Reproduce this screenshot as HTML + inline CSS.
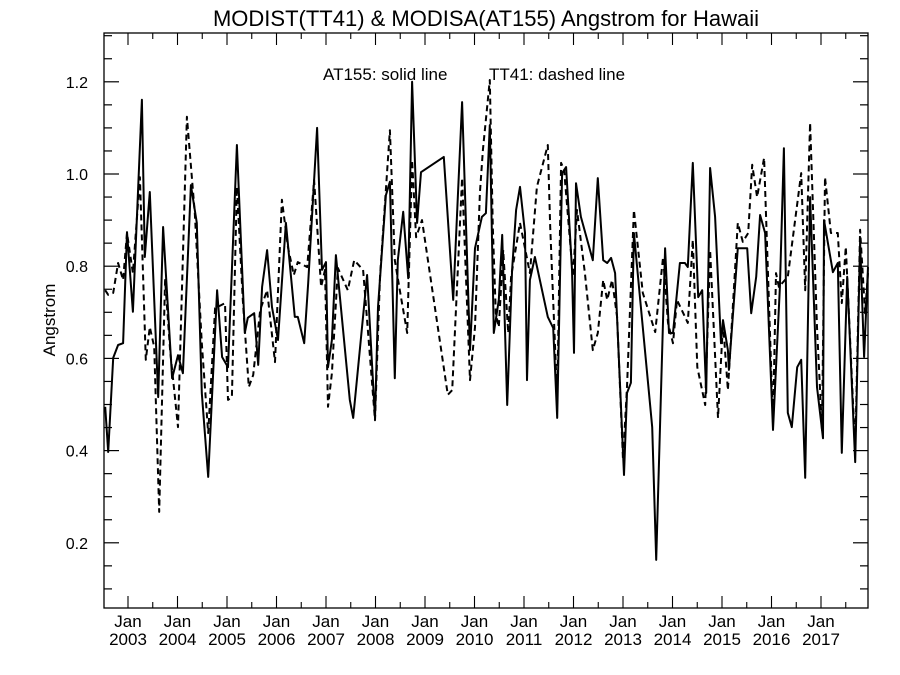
<!DOCTYPE html>
<html><head><meta charset="utf-8"><style>
html,body{margin:0;padding:0;background:#fff;}
svg{display:block;font-family:"Liberation Sans",sans-serif;}
</style></head><body>
<svg id="chart" width="900" height="675" viewBox="0 0 900 675">
<rect width="900" height="675" fill="#fff"/>
<text x="486" y="26" font-size="22" text-anchor="middle">MODIST(TT41) &amp; MODISA(AT155)  Angstrom for Hawaii</text>
<text transform="translate(55,320) rotate(-90)" font-size="17" text-anchor="middle">Angstrom</text>
<text x="323" y="80" font-size="17">AT155: solid line</text>
<text x="489" y="80" font-size="17">TT41: dashed line</text>
<g id="axes"></g>
<g id="series"></g>
</svg>
<script>
const yTicks=[0.2,0.4,0.6,0.8,1.0,1.2];
const yearTicks=[2003,2004,2005,2006,2007,2008,2009,2010,2011,2012,2013,2014,2015,2016,2017];
const at155T=[2002.54,2002.60,2002.70,2002.80,2002.90,2002.98,2003.10,2003.28,2003.34,2003.44,2003.61,2003.71,2003.89,2004.01,2004.11,2004.27,2004.39,2004.49,2004.62,2004.80,2004.90,2005.02,2005.20,2005.36,2005.42,2005.55,2005.63,2005.71,2005.81,2005.91,2006.03,2006.19,2006.37,2006.43,2006.56,2006.64,2006.82,2006.92,2007.00,2007.04,2007.12,2007.20,2007.34,2007.48,2007.55,2007.83,2007.99,2008.05,2008.21,2008.29,2008.39,2008.45,2008.56,2008.66,2008.74,2008.84,2008.92,2009.38,2009.57,2009.75,2009.91,2010.01,2010.15,2010.23,2010.31,2010.39,2010.49,2010.56,2010.66,2010.76,2010.84,2010.92,2011.02,2011.06,2011.12,2011.22,2011.48,2011.59,2011.67,2011.77,2011.85,2011.97,2012.01,2012.05,2012.15,2012.39,2012.49,2012.60,2012.68,2012.76,2012.84,2013.02,2013.08,2013.16,2013.22,2013.59,2013.67,2013.85,2013.93,2014.01,2014.15,2014.25,2014.31,2014.41,2014.52,2014.60,2014.68,2014.76,2014.86,2014.98,2015.02,2015.12,2015.14,2015.32,2015.51,2015.59,2015.69,2015.77,2015.87,2016.03,2016.17,2016.25,2016.33,2016.41,2016.52,2016.60,2016.68,2016.78,2016.92,2017.04,2017.06,2017.24,2017.34,2017.42,2017.53,2017.69,2017.79,2017.87,2017.95];
const at155V=[0.495,0.397,0.601,0.629,0.633,0.874,0.701,1.161,0.820,0.961,0.516,0.885,0.557,0.607,0.568,0.976,0.894,0.525,0.343,0.748,0.603,0.581,1.063,0.655,0.688,0.698,0.586,0.755,0.835,0.711,0.640,0.894,0.690,0.690,0.633,0.764,1.100,0.792,0.809,0.581,0.640,0.824,0.668,0.510,0.471,0.781,0.471,0.711,0.954,0.983,0.557,0.813,0.918,0.774,1.200,0.894,1.004,1.037,0.727,1.156,0.618,0.839,0.907,0.915,1.106,0.655,0.727,0.868,0.499,0.792,0.922,0.972,0.872,0.553,0.770,0.820,0.690,0.666,0.471,1.002,1.015,0.792,0.612,0.980,0.907,0.813,0.991,0.813,0.807,0.818,0.785,0.347,0.525,0.547,0.872,0.451,0.163,0.839,0.655,0.655,0.807,0.807,0.798,1.024,0.733,0.748,0.525,1.013,0.907,0.633,0.683,0.618,0.575,0.839,0.839,0.698,0.777,0.911,0.872,0.445,0.755,1.056,0.482,0.451,0.581,0.597,0.341,0.950,0.538,0.427,0.900,0.787,0.807,0.395,0.777,0.375,0.853,0.603,0.798];
const tt41T=[2002.54,2002.60,2002.70,2002.80,2002.90,2002.98,2003.10,2003.24,2003.36,2003.44,2003.53,2003.63,2003.75,2003.85,2004.01,2004.19,2004.35,2004.49,2004.62,2004.76,2004.96,2005.02,2005.10,2005.20,2005.32,2005.44,2005.53,2005.67,2005.81,2005.97,2006.11,2006.23,2006.35,2006.43,2006.62,2006.76,2006.90,2006.98,2007.04,2007.12,2007.24,2007.44,2007.57,2007.75,2007.99,2008.09,2008.29,2008.39,2008.49,2008.64,2008.74,2008.82,2008.94,2009.46,2009.55,2009.75,2009.91,2010.01,2010.11,2010.17,2010.31,2010.37,2010.43,2010.49,2010.58,2010.68,2010.74,2010.92,2011.12,2011.26,2011.48,2011.53,2011.67,2011.75,2011.81,2011.99,2012.07,2012.23,2012.39,2012.49,2012.60,2012.68,2012.78,2012.88,2013.00,2013.08,2013.22,2013.40,2013.65,2013.81,2013.91,2014.01,2014.09,2014.31,2014.41,2014.50,2014.66,2014.76,2014.92,2015.02,2015.12,2015.32,2015.42,2015.53,2015.61,2015.71,2015.85,2016.03,2016.09,2016.15,2016.33,2016.60,2016.68,2016.78,2016.92,2017.02,2017.08,2017.20,2017.34,2017.42,2017.50,2017.69,2017.79,2017.89,2017.95];
const tt41V=[0.748,0.738,0.742,0.807,0.770,0.872,0.785,0.993,0.597,0.668,0.625,0.267,0.770,0.618,0.451,1.124,0.915,0.633,0.438,0.709,0.720,0.510,0.516,0.972,0.727,0.538,0.564,0.705,0.748,0.592,0.944,0.842,0.781,0.809,0.798,0.987,0.755,0.792,0.495,0.568,0.796,0.748,0.813,0.792,0.466,0.777,1.095,0.813,0.748,0.655,1.030,0.863,0.900,0.521,0.531,0.991,0.553,0.668,0.959,1.052,1.204,0.885,0.698,0.668,0.835,0.655,0.777,0.894,0.785,0.972,1.063,0.885,0.510,1.024,1.009,0.777,0.922,0.785,0.618,0.655,0.770,0.727,0.770,0.690,0.380,0.538,0.922,0.742,0.657,0.820,0.677,0.633,0.727,0.677,0.857,0.581,0.499,0.835,0.471,0.677,0.531,0.894,0.853,0.872,1.020,0.950,1.035,0.460,0.785,0.755,0.777,1.002,0.748,1.111,0.668,0.445,0.993,0.872,0.872,0.720,0.842,0.401,0.879,0.698,0.785];

const NS='http://www.w3.org/2000/svg';
const L=104,R=868,T=33,B=608;
function xS(t){return 128+49.5*(t-2003);}
function yS(v){return 635-461*v;}
const axes=document.getElementById('axes');
const series=document.getElementById('series');
function mk(tag,attrs,parent){const e=document.createElementNS(NS,tag);for(const k in attrs)e.setAttribute(k,attrs[k]);parent.appendChild(e);return e;}

const frame=mk('rect',{x:L,y:T,width:R-L,height:B-T,fill:'none',stroke:'#000','stroke-width':1.3},axes);



// y minor ticks every 0.05
for(let i=2;i<=26;i++){
  const v=i*0.05;const y=yS(v);
  if(y<T||y>B)continue;
  const major=(i%4===0);
  const len=major?15:8;
  const t1=mk('line',{x1:L,x2:L+len,y1:y,y2:y,stroke:'#000','stroke-width':1.2},axes);
  
  
  const t2=mk('line',{x1:R,x2:R-len,y1:y,y2:y,stroke:'#000','stroke-width':1.2},axes);
  
  
}
yTicks.forEach(v=>{
  const tx=mk('text',{x:88,y:yS(v)+6,'font-size':16,'text-anchor':'end'},axes);
  tx.textContent=v.toFixed(1);
  
  
});
// x ticks
for(let k=-1;k<=15;k++){
  [0,0.5].forEach(off=>{
    const x=xS(2003+k+off);
    if(x<=L||x>=R)return;
    const len=off===0?12:6;
    const b=mk('line',{x1:x,x2:x,y1:B,y2:B-len,stroke:'#000','stroke-width':1.1},axes);
    
    
    const tp=mk('line',{x1:x,x2:x,y1:T,y2:T+len,stroke:'#000','stroke-width':1.1},axes);
    
    
  });
}
yearTicks.forEach(yr=>{
  const x=xS(yr);
  const a=mk('text',{x:x,y:627,'font-size':17,'text-anchor':'middle'},axes);
  a.textContent='Jan';
  
  
  const b=mk('text',{x:x,y:645,'font-size':17,'text-anchor':'middle'},axes);
  b.textContent=String(yr);
  
  
});
function pts(ts,vs){return ts.map((t,i)=>xS(t).toFixed(1)+','+yS(vs[i]).toFixed(1)).join(' ');}
const dl=mk('polyline',{points:pts(tt41T,tt41V),fill:'none',stroke:'#000','stroke-width':2,'stroke-dasharray':'6,4','stroke-linejoin':'round'},series);


const sl=mk('polyline',{points:pts(at155T,at155V),fill:'none',stroke:'#000','stroke-width':2,'stroke-linejoin':'round'},series);


</script>
</body></html>
